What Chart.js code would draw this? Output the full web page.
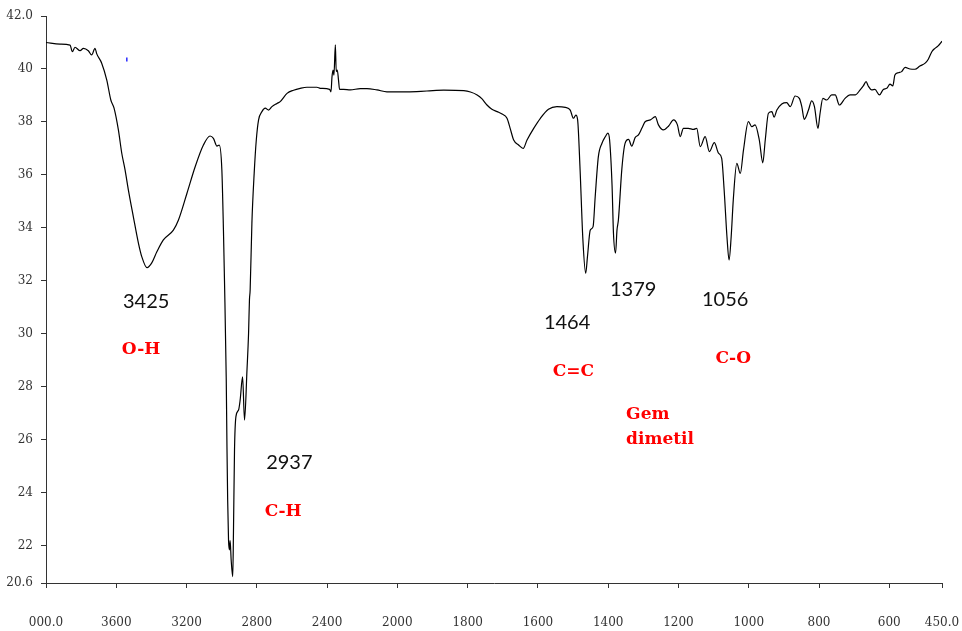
<!DOCTYPE html>
<html>
<head>
<meta charset="utf-8">
<script src="https://cdn.jsdelivr.net/npm/chart.js@4/dist/chart.umd.min.js"></script>
<style>
  html, body { margin: 0; padding: 0; background: #ffffff; }
  canvas { display: block; }
</style>
</head>
<body>
<canvas id="ir" width="962" height="631"></canvas>
<script>
// FTIR spectrum: wavenumber (cm-1) against transmittance (%T)
const WAVENUMBERS = [
  4000, 3920, 3863, 3850, 3835, 3806, 3787, 3759, 3740, 3721, 3711, 3683, 3654, 3631, 3613, 3588,
  3569, 3550, 3531, 3503, 3474, 3455, 3425, 3398, 3369, 3332, 3275, 3246, 3198, 3151, 3104, 3066,
  3047, 3027, 3014, 2999, 2990, 2984, 2974, 2970, 2966, 2961, 2956, 2952, 2946, 2937, 2933, 2927,
  2919, 2904, 2895, 2881, 2870, 2856, 2847, 2842, 2838, 2828, 2815, 2803, 2790, 2771, 2752, 2733,
  2714, 2685, 2667, 2628, 2591, 2553, 2515, 2458, 2439, 2386, 2378, 2372, 2366, 2361, 2353, 2348,
  2342, 2335, 2329, 2306, 2268, 2211, 2173, 2116, 2059, 1972, 1916, 1868, 1811, 1792, 1773, 1759,
  1745, 1731, 1716, 1702, 1688, 1679, 1669, 1655, 1642, 1631, 1612, 1593, 1570, 1546, 1522, 1508,
  1499, 1492, 1487, 1480, 1472, 1464, 1459, 1451, 1443, 1437, 1428, 1418, 1408, 1401, 1396, 1389,
  1385, 1379, 1375, 1371, 1361, 1352, 1342, 1333, 1323, 1314, 1304, 1295, 1280, 1266, 1257, 1243,
  1228, 1214, 1203, 1195, 1186, 1172, 1157, 1148, 1138, 1124, 1112, 1098, 1086, 1077, 1070, 1062,
  1056, 1050, 1044, 1034, 1024, 1015, 1001, 991, 982, 970, 960, 953, 944, 934, 928, 920,
  906, 892, 882, 868, 856, 849, 842, 830, 821, 813, 803, 797, 789, 778, 764, 754,
  742, 726, 712, 697, 683, 674, 666, 660, 650, 641, 628, 617, 607, 598, 590, 584,
  574, 565, 555, 541, 527, 513, 498, 489, 479, 470, 461, 450
];
const TRANSMITTANCE = [
  41.00, 40.94, 40.90, 40.65, 40.82, 40.69, 40.78, 40.69, 40.53, 40.78, 40.57, 40.22, 39.58, 38.83, 38.53, 37.70,
  36.83, 36.19, 35.43, 34.43, 33.43, 32.92, 32.50, 32.68, 33.10, 33.55, 33.92, 34.30, 35.30, 36.31, 37.13, 37.47,
  37.38, 37.09, 37.13, 36.19, 33.92, 32.00, 28.26, 25.75, 23.74, 22.20, 21.85, 22.20, 21.47, 20.84, 22.49, 25.62,
  26.88, 27.13, 27.50, 28.38, 26.75, 28.64, 30.03, 31.28, 31.66, 34.19, 36.07, 37.32, 38.08, 38.39, 38.52, 38.45,
  38.58, 38.70, 38.77, 39.08, 39.20, 39.27, 39.31, 39.31, 39.27, 39.23, 39.14, 39.71, 39.96, 39.77, 40.91, 39.90,
  39.96, 39.58, 39.23, 39.23, 39.21, 39.26, 39.26, 39.21, 39.14, 39.14, 39.17, 39.20, 39.18, 39.13, 39.02, 38.87,
  38.64, 38.48, 38.39, 38.30, 38.14, 37.76, 37.32, 37.13, 37.00, 37.32, 37.76, 38.14, 38.48, 38.58, 38.55, 38.45,
  38.14, 38.26, 38.08, 36.20, 33.55, 32.29, 32.92, 33.92, 34.05, 35.18, 36.69, 37.19, 37.45, 37.58, 37.32, 35.60,
  33.80, 33.05, 33.92, 34.30, 36.25, 37.19, 37.34, 37.09, 37.42, 37.51, 37.77, 38.01, 38.08, 38.20, 37.89, 37.70,
  37.85, 38.08, 37.89, 37.45, 37.76, 37.76, 37.72, 37.76, 37.07, 37.45, 36.88, 37.22, 36.82, 36.63, 35.43, 33.67,
  32.79, 33.67, 35.06, 36.44, 36.06, 36.94, 38.01, 37.82, 37.89, 37.32, 36.46, 37.32, 38.33, 38.39, 38.18, 38.45,
  38.68, 38.73, 38.58, 38.98, 38.89, 38.58, 38.10, 38.45, 38.80, 38.58, 37.76, 38.33, 38.89, 38.83, 39.02, 39.02,
  38.64, 38.89, 39.02, 39.02, 39.21, 39.36, 39.52, 39.36, 39.21, 39.23, 39.02, 39.23, 39.27, 39.43, 39.36, 39.77,
  39.86, 39.90, 40.06, 40.00, 39.99, 40.11, 40.22, 40.37, 40.65, 40.78, 40.87, 41.05
];

// short blue stroke near the start of the trace
const MARK_WAVENUMBERS = [3540, 3540];
const MARK_VALUES = [40.43, 40.28];

const X_TICKS = [4000, 3600, 3200, 2800, 2400, 2000, 1800, 1600, 1400, 1200, 1000, 800, 600, 450];
const X_TICK_LABELS = ['000.0', '3600', '3200', '2800', '2400', '2000', '1800', '1600', '1400', '1200', '1000', '800', '600', '450.0'];
const Y_TICKS = [20.6, 22, 24, 26, 28, 30, 32, 34, 36, 38, 40, 42];
const Y_TICK_LABELS = ['20.6', '22', '24', '26', '28', '30', '32', '34', '36', '38', '40', '42.0'];

// band wavenumbers and their assignments
const BAND_PEAKS = ['3425', '2937', '1464', '1379', '1056'];
const BAND_GROUPS = ['O-H', 'C-H', 'C=C', 'Gem', 'dimetil', 'C-O'];

// where each note sits, in (wavenumber, %T)
const PEAK_NOTE_AT = [[3430, 31.21], [2615, 25.13], [1517, 30.42], [1329, 31.66], [1067, 31.28]];
const GROUP_NOTE_AT = [[3459, 29.4], [2650, 23.28], [1499, 28.57], [1349, 26.94], [1349, 26.0], [1044, 29.06]];
const GROUP_NOTE_ALIGN = ['center', 'center', 'center', 'left', 'left', 'center'];

// Wavenumber axis drawn with 4000-2000 at half the scale of 2000-450
const AXIS_START = 4000, AXIS_BREAK = 2000, AXIS_END = 450;
class SplitWavenumberScale extends Chart.LinearScale {
  static id = 'splitWavenumber';
  static defaults = Chart.LinearScale.defaults;
  toUnits(w) {
    return w >= AXIS_BREAK ? (AXIS_START - w) / 2 : (AXIS_START - AXIS_BREAK) / 2 + (AXIS_BREAK - w);
  }
  fromUnits(u) {
    const half = (AXIS_START - AXIS_BREAK) / 2;
    return u <= half ? AXIS_START - u * 2 : AXIS_BREAK - (u - half);
  }
  getPixelForValue(value) {
    if (value === null || value === undefined || isNaN(value)) return NaN;
    return this.getPixelForDecimal(this.toUnits(value) / this.toUnits(AXIS_END));
  }
  getValueForPixel(pixel) {
    return this.fromUnits(this.getDecimalForPixel(pixel) * this.toUnits(AXIS_END));
  }
}
Chart.register(SplitWavenumberScale);

const notes = [];
BAND_PEAKS.forEach((t, i) => notes.push({
  text: t, at: PEAK_NOTE_AT[i], align: 'center', color: '#111111', font: '20px Lato'
}));
BAND_GROUPS.forEach((t, i) => notes.push({
  text: t, at: GROUP_NOTE_AT[i], align: GROUP_NOTE_ALIGN[i], color: '#ff0000', font: 'bold 17px "DejaVu Serif"'
}));

const bandNotes = {
  id: 'bandNotes',
  afterDatasetsDraw(chart) {
    const { ctx, scales: { x, y } } = chart;
    ctx.save();
    ctx.textBaseline = 'middle';
    notes.forEach(n => {
      ctx.font = n.font;
      ctx.fillStyle = n.color;
      ctx.textAlign = n.align;
      ctx.fillText(n.text, x.getPixelForValue(n.at[0]), y.getPixelForValue(n.at[1]));
    });
    ctx.restore();
  }
};

const spectrum = WAVENUMBERS.map((w, i) => ({ x: w, y: TRANSMITTANCE[i] }));
const mark = MARK_WAVENUMBERS.map((w, i) => ({ x: w, y: MARK_VALUES[i] }));

const tickFont = { family: '"DejaVu Serif"', size: 12 };

new Chart(document.getElementById('ir'), {
  type: 'line',
  data: {
    datasets: [
      { data: spectrum, borderColor: '#000000', borderWidth: 1.2, pointRadius: 0,
        cubicInterpolationMode: 'monotone', fill: false },
      { data: mark, borderColor: '#2a2aff', borderWidth: 1.5, pointRadius: 0, tension: 0, fill: false }
    ]
  },
  options: {
    responsive: false,
    devicePixelRatio: 1,
    animation: false,
    events: [],
    layout: { padding: { top: 16, right: 20, left: 0, bottom: 0 } },
    plugins: { legend: { display: false }, tooltip: { enabled: false } },
    scales: {
      x: {
        type: 'splitWavenumber',
        min: AXIS_END,
        max: AXIS_START,
        afterBuildTicks: s => { s.ticks = X_TICKS.map(v => ({ value: v })); },
        afterFit: s => { s.height = 48; s.paddingLeft = 0; s.paddingRight = 0; },
        ticks: {
          autoSkip: false, maxRotation: 0, padding: 28, color: '#333333', font: tickFont,
          callback: (v, i) => X_TICK_LABELS[i]
        },
        grid: { drawOnChartArea: false, drawTicks: true, tickLength: 5, color: '#333333', lineWidth: 1 },
        border: { display: true, color: '#333333', width: 1 }
      },
      y: {
        type: 'linear',
        min: 20.6,
        max: 42,
        afterBuildTicks: s => { s.ticks = Y_TICKS.map(v => ({ value: v })); },
        afterFit: s => { s.width = 46; },
        ticks: {
          autoSkip: false, padding: 8, color: '#333333', font: tickFont,
          callback: (v, i) => Y_TICK_LABELS[i]
        },
        grid: { drawOnChartArea: false, drawTicks: true, tickLength: 5, color: '#333333', lineWidth: 1 },
        border: { display: true, color: '#333333', width: 1 }
      }
    }
  },
  plugins: [bandNotes]
});
</script>
</body>
</html>
